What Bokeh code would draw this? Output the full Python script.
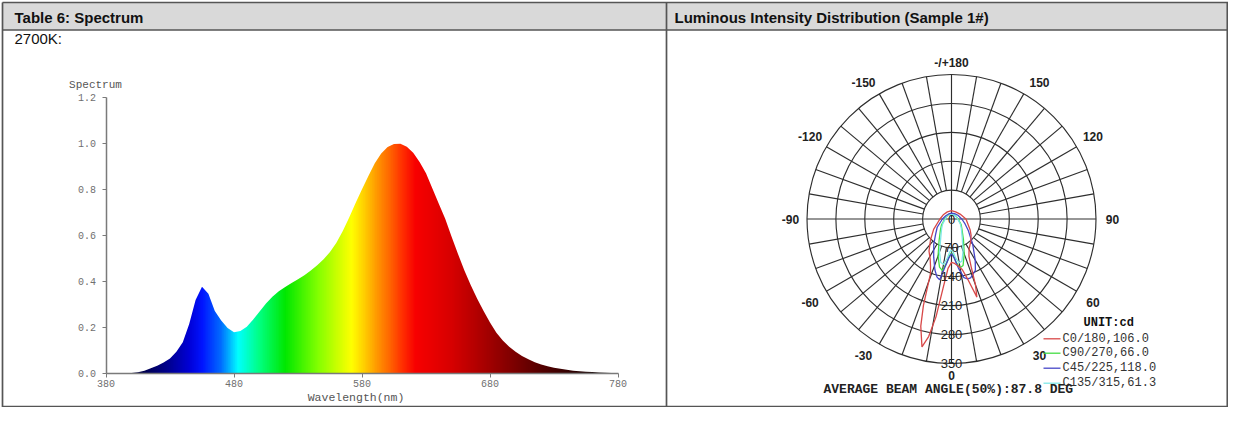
import numpy as np
from bokeh.plotting import figure
from bokeh.models import (Range1d, LinearAxis, FixedTicker, PrintfTickFormatter)
from bokeh.core.properties import value
from bokeh.embed import file_html
from bokeh.resources import INLINE

# ---------------- data ----------------
header_left = "Table 6: Spectrum"
header_right = "Luminous Intensity Distribution (Sample 1#)"
cct_label = "2700K:"

wavelength_nm = list(range(380, 781, 5))
spectrum_rel = [
    0.000, 0.000, 0.000, 0.000, 0.001, 0.004, 0.011, 0.021, 0.032, 0.046,
    0.064, 0.093, 0.135, 0.214, 0.318, 0.376, 0.345, 0.270, 0.229, 0.197,
    0.178, 0.183, 0.202, 0.233, 0.268, 0.303, 0.332, 0.356, 0.375, 0.392,
    0.408, 0.426, 0.447, 0.469, 0.495, 0.527, 0.567, 0.618, 0.677, 0.740,
    0.800, 0.857, 0.913, 0.955, 0.983, 0.996, 0.998, 0.985, 0.958, 0.918,
    0.869, 0.803, 0.737, 0.671, 0.593, 0.518, 0.446, 0.382, 0.324, 0.270,
    0.220, 0.176, 0.142, 0.115, 0.093, 0.075, 0.061, 0.048, 0.038, 0.030,
    0.024, 0.019, 0.015, 0.011, 0.008, 0.006, 0.005, 0.003, 0.002, 0.001,
    0.000,
]
x_ticks = [380, 480, 580, 680, 780]
y_ticks = [0.0, 0.2, 0.4, 0.6, 0.8, 1.0, 1.2]
y_title = "Spectrum"
x_title = "Wavelength(nm)"

ring_cd = [70, 140, 210, 280, 350]
ring_text = ["0", "70", "140", "210", "280", "350"]
angle_label_deg = [180, -150, 150, -120, 120, -90, 90, -60, 60, -30, 30, 0]
angle_label_text = ["-/+180", "-150", "150", "-120", "120", "-90", "90",
                    "-60", "60", "-30", "30", "0"]

c0_deg = [-180, -150, -120, -90, -60, -45, -35, -28, -24, -21, -18, -16, -13, -11,
          -9, -7, -4, 0, 4, 8, 12, 15, 18, 20, 22, 25, 30, 40, 50, 60, 90, 120, 150, 180]
c0_cd = [20, 20, 22, 28, 50, 72, 95, 110, 125, 142, 220, 270, 318, 290,
         240, 170, 120, 105, 108, 115, 125, 150, 199, 170, 130, 100, 85, 72, 62, 52, 35, 24, 20, 20]

c90_deg = [-180, -150, -120, -90, -60, -45, -30, -20, -14, -10, -6, -3, 0, 3, 6, 10,
           14, 20, 30, 45, 60, 90, 120, 150, 180]
c90_cd = [12, 12, 13, 16, 28, 38, 60, 95, 120, 127, 105, 88, 82, 88, 105, 120,
          116, 90, 58, 36, 27, 16, 13, 12, 12]

c45_deg = [-180, -150, -120, -90, -60, -45, -35, -25, -18, -14, -11, -8, -4, 0, 4, 8,
           12, 15, 18, 22, 25, 30, 40, 55, 70, 90, 120, 150, 180]
c45_cd = [14, 14, 16, 22, 40, 55, 75, 102, 130, 145, 150, 120, 95, 84, 95, 120,
          145, 150, 150, 142, 137, 115, 80, 50, 35, 25, 18, 15, 14]

c135_deg = [-180, -150, -120, -90, -60, -45, -30, -20, -14, -10, -6, -3, 0, 3, 6, 10,
            14, 20, 30, 45, 60, 90, 120, 150, 180]
c135_cd = [12, 12, 13, 15, 25, 34, 52, 85, 108, 112, 95, 80, 75, 80, 95, 108,
           105, 82, 52, 34, 25, 15, 13, 12, 12]

legend_title = "UNIT:cd"
legend_text = ["C0/180,106.0", "C90/270,66.0", "C45/225,118.0", "C135/315,61.3"]
beam_text = "AVERAGE BEAM ANGLE(50%):87.8 DEG"

# ---------------- layout (picture pixels) ----------------
W, H = 1228, 407
PX0, PY0 = 0, 0
SX0, SX1 = 105.5, 617.5      # x of 380 nm / 780 nm
SY0, SY1 = 372.7, 96.7       # y of 0.0 / 1.2
CX, CY = 951.0, 218.5        # polar centre
KP = 144.5 / 350.0           # px per cd

kx = (SX1 - SX0) / 400.0
ky = (SY0 - SY1) / 1.2
xs0 = 380 - (SX0 - PX0) / kx
ys0 = -(PY0 + H - SY0) / ky

p = figure(width=W, height=H,
           x_range=Range1d(xs0, xs0 + W / kx),
           y_range=Range1d(ys0, ys0 + H / ky),
           x_axis_type=None, y_axis_type=None,
           output_backend="svg", toolbar_location=None,
           min_border=0, min_border_left=0, min_border_right=0,
           min_border_top=0, min_border_bottom=0)
p.outline_line_color = None
p.background_fill_color = "white"
p.border_fill_color = "white"

p.extra_x_ranges = {
    "page": Range1d(PX0, PX0 + W),
    "pol": Range1d(-(CX - PX0) / KP, (PX0 + W - CX) / KP),
}
p.extra_y_ranges = {
    "page": Range1d(PY0 + H, PY0),
    "pol": Range1d(-(PY0 + H - CY) / KP, (CY - PY0) / KP),
}
PG = dict(x_range_name="page", y_range_name="page")
PO = dict(x_range_name="pol", y_range_name="pol")

# ---------------- table ----------------
p.quad(left=2, right=W, top=2, bottom=29.5, fill_color="#d9d9d9",
       line_color=None, **PG)
tl = "#555555"
p.segment(x0=[2, 2, 2, 2, 666, W - 1.2],
          y0=[2, 29.5, 406, 2, 2, 2],
          x1=[W, W, W, 2, 666, W - 1.2],
          y1=[2, 29.5, 406, H, H, H],
          line_color=tl, line_width=1.7, **PG)
p.text(x=[14, 674], y=[17, 17], text=[header_left, header_right],
       text_font=value("Liberation Sans"), text_font_style="bold",
       text_font_size="15px", text_color="#111111", text_baseline="middle",
       text_align="left", **PG)
p.text(x=[14], y=[37.5], text=[cct_label], text_font=value("Liberation Sans"),
       text_font_size="15px", text_color="#111111", text_baseline="middle",
       text_align="left", **PG)

# ---------------- spectrum ----------------
anchors = [(380, (0, 0, 0)), (410, (0, 0, 80)), (430, (0, 0, 150)), (445, (0, 0, 215)),
           (455, (0, 20, 255)), (470, (0, 110, 255)), (483, (0, 255, 255)),
           (500, (0, 255, 128)), (520, (0, 232, 0)), (545, (128, 255, 0)),
           (560, (200, 255, 0)), (572, (255, 255, 0)), (582, (255, 205, 0)),
           (592, (255, 150, 0)), (602, (255, 100, 0)), (612, (255, 45, 0)),
           (622, (248, 0, 0)), (650, (215, 0, 0)), (680, (160, 0, 0)),
           (720, (85, 0, 0)), (760, (22, 0, 0)), (780, (0, 0, 0))]
aw = [a[0] for a in anchors]

# colour band (style only): one colour per column across the wavelength axis
wl0, wl1 = x_ticks[0], x_ticks[-1]
NCOL = 800
wl_grid = np.linspace(wl0, wl1, NCOL)
img = np.empty((2, NCOL), dtype=np.uint32)
view = img.view(dtype=np.uint8).reshape((2, NCOL, 4))
for ch in range(3):
    view[:, :, ch] = np.interp(wl_grid, aw, [a[1][ch] for a in anchors]).astype(np.uint8)
view[:, :, 3] = 255
top = max(spectrum_rel) * 1.03
p.image_rgba(image=[img], x=wl0, y=0, dw=wl1 - wl0, dh=top)
# the spectrum itself: everything above the curve is left white
p.varea(x=wavelength_nm, y1=spectrum_rel, y2=top + 0.02, fill_color="white")

ax_col = "#7a7a7a"
xax = LinearAxis(fixed_location=0, bounds=(380, 780), ticker=FixedTicker(ticks=x_ticks))
yax = LinearAxis(fixed_location=380, bounds=(0, 1.2), ticker=FixedTicker(ticks=y_ticks),
                 formatter=PrintfTickFormatter(format="%.1f"))
for ax, so in ((xax, 3), (yax, 6)):
    ax.axis_line_color = ax_col
    ax.axis_line_width = 1.5
    ax.major_tick_line_color = ax_col
    ax.major_tick_in = 0
    ax.major_tick_out = 4
    ax.minor_tick_line_color = None
    ax.major_label_text_font = "Liberation Mono"
    ax.major_label_text_font_size = "10px"
    ax.major_label_text_color = "#6f6f6f"
    ax.major_label_standoff = so
p.add_layout(xax, "below")
p.add_layout(yax, "left")

p.text(x=[95], y=[84], text=[y_title], text_font=value("Liberation Mono"),
       text_font_size="11px", text_color="#555555", text_align="center",
       text_baseline="middle", **PG)
p.text(x=[355.5], y=[396.5], text=[x_title], text_font=value("Liberation Mono"),
       text_font_size="11.5px", text_color="#555555", text_align="center",
       text_baseline="middle", **PG)

# ---------------- polar chart ----------------
gcol = "#2e2e2e"
p.circle(x=0, y=0, radius=ring_cd, fill_color=None, line_color=gcol,
         line_width=1.15, **PO)
ang_deg = np.arange(-180, 180, 10)
ang = np.deg2rad(ang_deg)
r_in = np.where(np.isclose(np.mod(ang_deg, 90), 0), 0, ring_cd[0])
r_out = ring_cd[-1]
p.segment(x0=r_in * np.sin(ang), y0=-r_in * np.cos(ang),
          x1=r_out * np.sin(ang), y1=-r_out * np.cos(ang),
          line_color=gcol, line_width=1.15, **PO)

curve_cols = ["#d84848", "#44dd44", "#4646c8", "#7fe8e8"]
series = [(c0_deg, c0_cd), (c90_deg, c90_cd), (c45_deg, c45_cd), (c135_deg, c135_cd)]
for idx in (1, 3, 2, 0):
    dg, cd = series[idx]
    t = np.deg2rad(np.array(dg, dtype=float))
    r = np.array(cd, dtype=float)
    p.line(x=r * np.sin(t), y=-r * np.cos(t), line_color=curve_cols[idx],
           line_width=1.3, **PO)

# ring labels
p.text(x=[0] * len(ring_text), y=[-v for v in [0] + ring_cd], text=ring_text,
       text_font=value("Liberation Sans"), text_font_size="13px",
       text_color="#222222", text_align="center", text_baseline="middle", **PO)

# angle labels
lx, ly = [], []
for a in angle_label_deg:
    s, c = np.sin(np.deg2rad(a)), np.cos(np.deg2rad(a))
    sx = 0 if abs(s) < 1e-6 else np.sign(s)
    sy = 0 if abs(c) < 1e-6 else np.sign(c)
    dx = 146 * s + 15 * sx
    dy = 146 * c + 10 * sy
    lx.append(dx / KP)
    ly.append(-dy / KP)
p.text(x=lx, y=ly, text=angle_label_text, text_font=value("Liberation Sans"),
       text_font_style="bold", text_font_size="12px", text_color="#222222",
       text_align="center", text_baseline="middle", **PO)

# legend
leg_y = [338.3, 352.7, 367.7, 382.7]
p.segment(x0=[1043] * 4, x1=[1060] * 4, y0=leg_y, y1=leg_y, line_color=curve_cols,
          line_width=1.3, **PG)
p.text(x=[1062] * 4, y=leg_y, text=legend_text, text_font=value("Liberation Mono"),
       text_font_size="12px", text_color="#333333", text_align="left",
       text_baseline="middle", **PG)
p.text(x=[1083], y=[322], text=[legend_title], text_font=value("Liberation Mono"),
       text_font_style="bold", text_font_size="12px", text_color="#111111",
       text_align="left", text_baseline="middle", **PG)
p.text(x=[823], y=[389.3], text=[beam_text], text_font=value("Liberation Mono"),
       text_font_style="bold", text_font_size="13px", text_color="#222222",
       text_align="left", text_baseline="middle", **PG)

open("out.html", "w").write(file_html(p, INLINE))
